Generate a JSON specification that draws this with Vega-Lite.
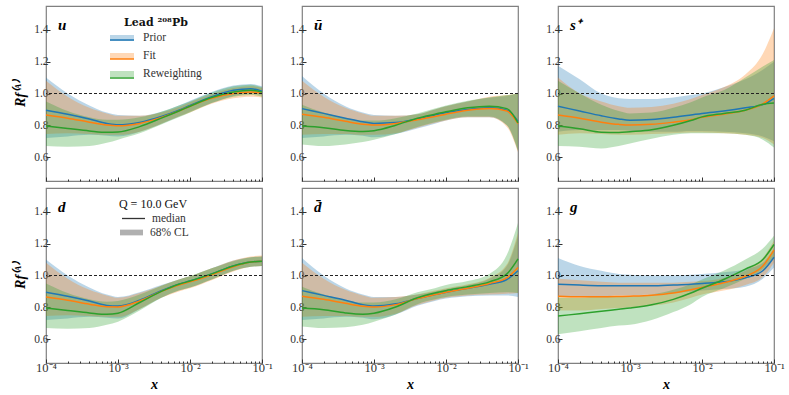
{
  "$schema": "https://vega.github.io/schema/vega-lite/v6.json",
  "background": "white",
  "padding": {"left": 13, "top": 5, "right": 5, "bottom": 5},
  "bounds": "flush",
  "columns": 3,
  "spacing": {"row": 7, "column": 40},
  "resolve": {
    "scale": {"fill": "independent", "stroke": "independent", "shape": "independent"},
    "legend": {"fill": "independent", "stroke": "independent", "shape": "independent"}
  },
  "config": {
    "font": "Liberation Serif",
    "view": {"stroke": "#808080", "strokeWidth": 1.2},
    "axis": {"domain": false, "grid": false, "labelFont": "Liberation Serif", "labelFontSize": 11.5, "labelColor": "#333", "tickColor": "#333", "titleFont": "Liberation Serif", "titleFontSize": 14, "titleFontWeight": "bold", "titleFontStyle": "italic", "titleColor": "#000"},
    "axisY": {"labelPadding": 2, "titlePadding": 6},
    "axisX": {"labelPadding": 2, "titlePadding": 2},
    "legend": {"labelFont": "Liberation Serif", "labelFontSize": 11.5, "labelColor": "#333"},
    "title": {"font": "Liberation Serif", "fontSize": 15, "fontWeight": "bold", "fontStyle": "italic", "color": "#000", "anchor": "start", "frame": "group", "offset": -27, "dx": 12, "baseline": "alphabetic"}
  },
  "data": {"values": [
{"p":"u","s":"Prior","x":0.0001,"lo":0.72,"m":0.895,"hi":1.1},
{"p":"u","s":"Prior","x":0.0002,"lo":0.73,"m":0.87,"hi":1.0},
{"p":"u","s":"Prior","x":0.0004,"lo":0.74,"m":0.84,"hi":0.925},
{"p":"u","s":"Prior","x":0.0007,"lo":0.735,"m":0.812,"hi":0.88},
{"p":"u","s":"Prior","x":0.001,"lo":0.73,"m":0.803,"hi":0.865},
{"p":"u","s":"Prior","x":0.002,"lo":0.76,"m":0.818,"hi":0.86},
{"p":"u","s":"Prior","x":0.004,"lo":0.81,"m":0.855,"hi":0.885},
{"p":"u","s":"Prior","x":0.007,"lo":0.855,"m":0.895,"hi":0.925},
{"p":"u","s":"Prior","x":0.01,"lo":0.885,"m":0.925,"hi":0.955},
{"p":"u","s":"Prior","x":0.02,"lo":0.94,"m":0.98,"hi":1.01},
{"p":"u","s":"Prior","x":0.04,"lo":0.985,"m":1.02,"hi":1.05},
{"p":"u","s":"Prior","x":0.07,"lo":1.0,"m":1.03,"hi":1.06},
{"p":"u","s":"Prior","x":0.1,"lo":0.99,"m":1.015,"hi":1.045},
{"p":"u","s":"Fit","x":0.0001,"lo":0.745,"m":0.865,"hi":1.08},
{"p":"u","s":"Fit","x":0.0002,"lo":0.75,"m":0.845,"hi":0.98},
{"p":"u","s":"Fit","x":0.0004,"lo":0.745,"m":0.82,"hi":0.91},
{"p":"u","s":"Fit","x":0.0007,"lo":0.74,"m":0.802,"hi":0.875},
{"p":"u","s":"Fit","x":0.001,"lo":0.74,"m":0.797,"hi":0.86},
{"p":"u","s":"Fit","x":0.002,"lo":0.76,"m":0.812,"hi":0.86},
{"p":"u","s":"Fit","x":0.004,"lo":0.81,"m":0.85,"hi":0.88},
{"p":"u","s":"Fit","x":0.007,"lo":0.855,"m":0.89,"hi":0.915},
{"p":"u","s":"Fit","x":0.01,"lo":0.88,"m":0.92,"hi":0.945},
{"p":"u","s":"Fit","x":0.02,"lo":0.935,"m":0.97,"hi":0.995},
{"p":"u","s":"Fit","x":0.04,"lo":0.97,"m":1.0,"hi":1.035},
{"p":"u","s":"Fit","x":0.07,"lo":0.98,"m":1.01,"hi":1.045},
{"p":"u","s":"Fit","x":0.1,"lo":0.975,"m":1.0,"hi":1.035},
{"p":"u","s":"Reweighting","x":0.0001,"lo":0.67,"m":0.795,"hi":0.95},
{"p":"u","s":"Reweighting","x":0.0002,"lo":0.665,"m":0.78,"hi":0.89},
{"p":"u","s":"Reweighting","x":0.0004,"lo":0.67,"m":0.765,"hi":0.85},
{"p":"u","s":"Reweighting","x":0.0007,"lo":0.69,"m":0.756,"hi":0.835},
{"p":"u","s":"Reweighting","x":0.001,"lo":0.71,"m":0.758,"hi":0.835},
{"p":"u","s":"Reweighting","x":0.002,"lo":0.75,"m":0.792,"hi":0.85},
{"p":"u","s":"Reweighting","x":0.004,"lo":0.805,"m":0.845,"hi":0.885},
{"p":"u","s":"Reweighting","x":0.007,"lo":0.85,"m":0.89,"hi":0.925},
{"p":"u","s":"Reweighting","x":0.01,"lo":0.88,"m":0.92,"hi":0.95},
{"p":"u","s":"Reweighting","x":0.02,"lo":0.94,"m":0.975,"hi":1.005},
{"p":"u","s":"Reweighting","x":0.04,"lo":0.98,"m":1.01,"hi":1.045},
{"p":"u","s":"Reweighting","x":0.07,"lo":0.99,"m":1.02,"hi":1.055},
{"p":"u","s":"Reweighting","x":0.1,"lo":0.98,"m":1.01,"hi":1.04},
{"p":"ubar","s":"Prior","x":0.0001,"lo":0.72,"m":0.905,"hi":1.11},
{"p":"ubar","s":"Prior","x":0.0002,"lo":0.73,"m":0.875,"hi":1.0},
{"p":"ubar","s":"Prior","x":0.0004,"lo":0.74,"m":0.845,"hi":0.92},
{"p":"ubar","s":"Prior","x":0.0007,"lo":0.735,"m":0.822,"hi":0.88},
{"p":"ubar","s":"Prior","x":0.001,"lo":0.725,"m":0.812,"hi":0.865},
{"p":"ubar","s":"Prior","x":0.002,"lo":0.745,"m":0.817,"hi":0.86},
{"p":"ubar","s":"Prior","x":0.004,"lo":0.78,"m":0.84,"hi":0.87},
{"p":"ubar","s":"Prior","x":0.007,"lo":0.81,"m":0.865,"hi":0.9},
{"p":"ubar","s":"Prior","x":0.01,"lo":0.83,"m":0.88,"hi":0.92},
{"p":"ubar","s":"Prior","x":0.02,"lo":0.85,"m":0.9,"hi":0.95},
{"p":"ubar","s":"Prior","x":0.04,"lo":0.85,"m":0.91,"hi":0.975},
{"p":"ubar","s":"Prior","x":0.07,"lo":0.8,"m":0.895,"hi":0.985},
{"p":"ubar","s":"Prior","x":0.1,"lo":0.64,"m":0.825,"hi":1.0},
{"p":"ubar","s":"Fit","x":0.0001,"lo":0.74,"m":0.87,"hi":1.08},
{"p":"ubar","s":"Fit","x":0.0002,"lo":0.745,"m":0.85,"hi":0.98},
{"p":"ubar","s":"Fit","x":0.0004,"lo":0.745,"m":0.825,"hi":0.91},
{"p":"ubar","s":"Fit","x":0.0007,"lo":0.74,"m":0.807,"hi":0.875},
{"p":"ubar","s":"Fit","x":0.001,"lo":0.74,"m":0.802,"hi":0.86},
{"p":"ubar","s":"Fit","x":0.002,"lo":0.75,"m":0.812,"hi":0.86},
{"p":"ubar","s":"Fit","x":0.004,"lo":0.785,"m":0.835,"hi":0.87},
{"p":"ubar","s":"Fit","x":0.007,"lo":0.815,"m":0.855,"hi":0.9},
{"p":"ubar","s":"Fit","x":0.01,"lo":0.83,"m":0.87,"hi":0.92},
{"p":"ubar","s":"Fit","x":0.02,"lo":0.85,"m":0.895,"hi":0.95},
{"p":"ubar","s":"Fit","x":0.04,"lo":0.85,"m":0.905,"hi":0.98},
{"p":"ubar","s":"Fit","x":0.07,"lo":0.79,"m":0.89,"hi":0.99},
{"p":"ubar","s":"Fit","x":0.1,"lo":0.63,"m":0.81,"hi":1.0},
{"p":"ubar","s":"Reweighting","x":0.0001,"lo":0.68,"m":0.795,"hi":0.93},
{"p":"ubar","s":"Reweighting","x":0.0002,"lo":0.67,"m":0.785,"hi":0.88},
{"p":"ubar","s":"Reweighting","x":0.0004,"lo":0.68,"m":0.767,"hi":0.845},
{"p":"ubar","s":"Reweighting","x":0.0007,"lo":0.695,"m":0.761,"hi":0.83},
{"p":"ubar","s":"Reweighting","x":0.001,"lo":0.71,"m":0.766,"hi":0.83},
{"p":"ubar","s":"Reweighting","x":0.002,"lo":0.745,"m":0.8,"hi":0.845},
{"p":"ubar","s":"Reweighting","x":0.004,"lo":0.79,"m":0.845,"hi":0.875},
{"p":"ubar","s":"Reweighting","x":0.007,"lo":0.82,"m":0.87,"hi":0.905},
{"p":"ubar","s":"Reweighting","x":0.01,"lo":0.835,"m":0.885,"hi":0.925},
{"p":"ubar","s":"Reweighting","x":0.02,"lo":0.855,"m":0.91,"hi":0.955},
{"p":"ubar","s":"Reweighting","x":0.04,"lo":0.855,"m":0.92,"hi":0.975},
{"p":"ubar","s":"Reweighting","x":0.07,"lo":0.8,"m":0.905,"hi":0.99},
{"p":"ubar","s":"Reweighting","x":0.1,"lo":0.64,"m":0.815,"hi":1.0},
{"p":"s","s":"Prior","x":0.0001,"lo":0.76,"m":0.92,"hi":1.175},
{"p":"s","s":"Prior","x":0.0002,"lo":0.77,"m":0.89,"hi":1.09},
{"p":"s","s":"Prior","x":0.0004,"lo":0.77,"m":0.86,"hi":1.0},
{"p":"s","s":"Prior","x":0.0007,"lo":0.77,"m":0.84,"hi":0.97},
{"p":"s","s":"Prior","x":0.001,"lo":0.765,"m":0.832,"hi":0.965},
{"p":"s","s":"Prior","x":0.002,"lo":0.76,"m":0.836,"hi":0.965},
{"p":"s","s":"Prior","x":0.004,"lo":0.76,"m":0.85,"hi":0.975},
{"p":"s","s":"Prior","x":0.007,"lo":0.765,"m":0.865,"hi":0.99},
{"p":"s","s":"Prior","x":0.01,"lo":0.765,"m":0.875,"hi":1.0},
{"p":"s","s":"Prior","x":0.02,"lo":0.76,"m":0.89,"hi":1.04},
{"p":"s","s":"Prior","x":0.04,"lo":0.75,"m":0.91,"hi":1.09},
{"p":"s","s":"Prior","x":0.07,"lo":0.73,"m":0.93,"hi":1.15},
{"p":"s","s":"Prior","x":0.1,"lo":0.7,"m":0.97,"hi":1.2},
{"p":"s","s":"Fit","x":0.0001,"lo":0.74,"m":0.865,"hi":1.1},
{"p":"s","s":"Fit","x":0.0002,"lo":0.75,"m":0.845,"hi":1.0},
{"p":"s","s":"Fit","x":0.0004,"lo":0.745,"m":0.82,"hi":0.95},
{"p":"s","s":"Fit","x":0.0007,"lo":0.74,"m":0.806,"hi":0.92},
{"p":"s","s":"Fit","x":0.001,"lo":0.74,"m":0.802,"hi":0.91},
{"p":"s","s":"Fit","x":0.002,"lo":0.745,"m":0.806,"hi":0.915},
{"p":"s","s":"Fit","x":0.004,"lo":0.75,"m":0.82,"hi":0.935},
{"p":"s","s":"Fit","x":0.007,"lo":0.755,"m":0.835,"hi":0.965},
{"p":"s","s":"Fit","x":0.01,"lo":0.755,"m":0.85,"hi":0.99},
{"p":"s","s":"Fit","x":0.02,"lo":0.75,"m":0.87,"hi":1.04},
{"p":"s","s":"Fit","x":0.04,"lo":0.74,"m":0.895,"hi":1.12},
{"p":"s","s":"Fit","x":0.07,"lo":0.72,"m":0.935,"hi":1.25},
{"p":"s","s":"Fit","x":0.1,"lo":0.68,"m":0.985,"hi":1.41},
{"p":"s","s":"Reweighting","x":0.0001,"lo":0.67,"m":0.795,"hi":1.08},
{"p":"s","s":"Reweighting","x":0.0002,"lo":0.665,"m":0.778,"hi":1.0},
{"p":"s","s":"Reweighting","x":0.0004,"lo":0.655,"m":0.757,"hi":0.93},
{"p":"s","s":"Reweighting","x":0.0007,"lo":0.67,"m":0.755,"hi":0.89},
{"p":"s","s":"Reweighting","x":0.001,"lo":0.685,"m":0.76,"hi":0.875},
{"p":"s","s":"Reweighting","x":0.002,"lo":0.715,"m":0.772,"hi":0.88},
{"p":"s","s":"Reweighting","x":0.004,"lo":0.74,"m":0.8,"hi":0.91},
{"p":"s","s":"Reweighting","x":0.007,"lo":0.75,"m":0.83,"hi":0.945},
{"p":"s","s":"Reweighting","x":0.01,"lo":0.75,"m":0.853,"hi":0.975},
{"p":"s","s":"Reweighting","x":0.02,"lo":0.75,"m":0.875,"hi":1.02},
{"p":"s","s":"Reweighting","x":0.04,"lo":0.74,"m":0.895,"hi":1.1},
{"p":"s","s":"Reweighting","x":0.07,"lo":0.71,"m":0.932,"hi":1.17},
{"p":"s","s":"Reweighting","x":0.1,"lo":0.66,"m":0.94,"hi":1.21},
{"p":"d","s":"Prior","x":0.0001,"lo":0.72,"m":0.895,"hi":1.1},
{"p":"d","s":"Prior","x":0.0002,"lo":0.73,"m":0.87,"hi":1.0},
{"p":"d","s":"Prior","x":0.0004,"lo":0.74,"m":0.84,"hi":0.925},
{"p":"d","s":"Prior","x":0.0007,"lo":0.735,"m":0.812,"hi":0.88},
{"p":"d","s":"Prior","x":0.001,"lo":0.73,"m":0.808,"hi":0.865},
{"p":"d","s":"Prior","x":0.002,"lo":0.79,"m":0.845,"hi":0.895},
{"p":"d","s":"Prior","x":0.004,"lo":0.86,"m":0.905,"hi":0.94},
{"p":"d","s":"Prior","x":0.007,"lo":0.905,"m":0.945,"hi":0.975},
{"p":"d","s":"Prior","x":0.01,"lo":0.925,"m":0.965,"hi":0.995},
{"p":"d","s":"Prior","x":0.02,"lo":0.975,"m":1.01,"hi":1.045},
{"p":"d","s":"Prior","x":0.04,"lo":1.03,"m":1.06,"hi":1.095},
{"p":"d","s":"Prior","x":0.07,"lo":1.055,"m":1.085,"hi":1.115},
{"p":"d","s":"Prior","x":0.1,"lo":1.06,"m":1.09,"hi":1.12},
{"p":"d","s":"Fit","x":0.0001,"lo":0.745,"m":0.865,"hi":1.08},
{"p":"d","s":"Fit","x":0.0002,"lo":0.75,"m":0.845,"hi":0.98},
{"p":"d","s":"Fit","x":0.0004,"lo":0.745,"m":0.82,"hi":0.91},
{"p":"d","s":"Fit","x":0.0007,"lo":0.74,"m":0.803,"hi":0.875},
{"p":"d","s":"Fit","x":0.001,"lo":0.74,"m":0.802,"hi":0.86},
{"p":"d","s":"Fit","x":0.002,"lo":0.79,"m":0.84,"hi":0.89},
{"p":"d","s":"Fit","x":0.004,"lo":0.86,"m":0.9,"hi":0.935},
{"p":"d","s":"Fit","x":0.007,"lo":0.9,"m":0.94,"hi":0.975},
{"p":"d","s":"Fit","x":0.01,"lo":0.92,"m":0.96,"hi":0.995},
{"p":"d","s":"Fit","x":0.02,"lo":0.97,"m":1.005,"hi":1.045},
{"p":"d","s":"Fit","x":0.04,"lo":1.025,"m":1.055,"hi":1.095},
{"p":"d","s":"Fit","x":0.07,"lo":1.055,"m":1.085,"hi":1.12},
{"p":"d","s":"Fit","x":0.1,"lo":1.06,"m":1.09,"hi":1.125},
{"p":"d","s":"Reweighting","x":0.0001,"lo":0.67,"m":0.795,"hi":0.95},
{"p":"d","s":"Reweighting","x":0.0002,"lo":0.665,"m":0.78,"hi":0.89},
{"p":"d","s":"Reweighting","x":0.0004,"lo":0.67,"m":0.765,"hi":0.85},
{"p":"d","s":"Reweighting","x":0.0007,"lo":0.69,"m":0.756,"hi":0.835},
{"p":"d","s":"Reweighting","x":0.001,"lo":0.71,"m":0.763,"hi":0.84},
{"p":"d","s":"Reweighting","x":0.002,"lo":0.78,"m":0.83,"hi":0.88},
{"p":"d","s":"Reweighting","x":0.004,"lo":0.86,"m":0.9,"hi":0.935},
{"p":"d","s":"Reweighting","x":0.007,"lo":0.905,"m":0.945,"hi":0.975},
{"p":"d","s":"Reweighting","x":0.01,"lo":0.925,"m":0.965,"hi":0.995},
{"p":"d","s":"Reweighting","x":0.02,"lo":0.975,"m":1.01,"hi":1.045},
{"p":"d","s":"Reweighting","x":0.04,"lo":1.03,"m":1.06,"hi":1.09},
{"p":"d","s":"Reweighting","x":0.07,"lo":1.055,"m":1.085,"hi":1.115},
{"p":"d","s":"Reweighting","x":0.1,"lo":1.06,"m":1.09,"hi":1.12},
{"p":"dbar","s":"Prior","x":0.0001,"lo":0.72,"m":0.905,"hi":1.11},
{"p":"dbar","s":"Prior","x":0.0002,"lo":0.73,"m":0.875,"hi":1.0},
{"p":"dbar","s":"Prior","x":0.0004,"lo":0.74,"m":0.845,"hi":0.92},
{"p":"dbar","s":"Prior","x":0.0007,"lo":0.735,"m":0.817,"hi":0.88},
{"p":"dbar","s":"Prior","x":0.001,"lo":0.725,"m":0.808,"hi":0.865},
{"p":"dbar","s":"Prior","x":0.002,"lo":0.755,"m":0.822,"hi":0.865},
{"p":"dbar","s":"Prior","x":0.004,"lo":0.81,"m":0.855,"hi":0.88},
{"p":"dbar","s":"Prior","x":0.007,"lo":0.84,"m":0.88,"hi":0.9},
{"p":"dbar","s":"Prior","x":0.01,"lo":0.855,"m":0.895,"hi":0.915},
{"p":"dbar","s":"Prior","x":0.02,"lo":0.87,"m":0.92,"hi":0.94},
{"p":"dbar","s":"Prior","x":0.04,"lo":0.875,"m":0.945,"hi":0.98},
{"p":"dbar","s":"Prior","x":0.07,"lo":0.875,"m":0.975,"hi":1.06},
{"p":"dbar","s":"Prior","x":0.1,"lo":0.865,"m":1.03,"hi":1.25},
{"p":"dbar","s":"Fit","x":0.0001,"lo":0.74,"m":0.87,"hi":1.08},
{"p":"dbar","s":"Fit","x":0.0002,"lo":0.745,"m":0.85,"hi":0.98},
{"p":"dbar","s":"Fit","x":0.0004,"lo":0.745,"m":0.825,"hi":0.91},
{"p":"dbar","s":"Fit","x":0.0007,"lo":0.74,"m":0.807,"hi":0.875},
{"p":"dbar","s":"Fit","x":0.001,"lo":0.74,"m":0.802,"hi":0.86},
{"p":"dbar","s":"Fit","x":0.002,"lo":0.76,"m":0.817,"hi":0.865},
{"p":"dbar","s":"Fit","x":0.004,"lo":0.815,"m":0.855,"hi":0.88},
{"p":"dbar","s":"Fit","x":0.007,"lo":0.845,"m":0.88,"hi":0.905},
{"p":"dbar","s":"Fit","x":0.01,"lo":0.86,"m":0.895,"hi":0.92},
{"p":"dbar","s":"Fit","x":0.02,"lo":0.875,"m":0.92,"hi":0.945},
{"p":"dbar","s":"Fit","x":0.04,"lo":0.88,"m":0.95,"hi":0.985},
{"p":"dbar","s":"Fit","x":0.07,"lo":0.885,"m":0.985,"hi":1.07},
{"p":"dbar","s":"Fit","x":0.1,"lo":0.89,"m":1.05,"hi":1.27},
{"p":"dbar","s":"Reweighting","x":0.0001,"lo":0.68,"m":0.795,"hi":0.93},
{"p":"dbar","s":"Reweighting","x":0.0002,"lo":0.67,"m":0.785,"hi":0.88},
{"p":"dbar","s":"Reweighting","x":0.0004,"lo":0.675,"m":0.765,"hi":0.845},
{"p":"dbar","s":"Reweighting","x":0.0007,"lo":0.69,"m":0.757,"hi":0.83},
{"p":"dbar","s":"Reweighting","x":0.001,"lo":0.71,"m":0.763,"hi":0.83},
{"p":"dbar","s":"Reweighting","x":0.002,"lo":0.755,"m":0.802,"hi":0.85},
{"p":"dbar","s":"Reweighting","x":0.004,"lo":0.82,"m":0.86,"hi":0.895},
{"p":"dbar","s":"Reweighting","x":0.007,"lo":0.85,"m":0.89,"hi":0.92},
{"p":"dbar","s":"Reweighting","x":0.01,"lo":0.865,"m":0.905,"hi":0.94},
{"p":"dbar","s":"Reweighting","x":0.02,"lo":0.88,"m":0.93,"hi":0.965},
{"p":"dbar","s":"Reweighting","x":0.04,"lo":0.89,"m":0.96,"hi":1.01},
{"p":"dbar","s":"Reweighting","x":0.07,"lo":0.895,"m":1.01,"hi":1.13},
{"p":"dbar","s":"Reweighting","x":0.1,"lo":0.89,"m":1.105,"hi":1.33},
{"p":"g","s":"Prior","x":0.0001,"lo":0.87,"m":0.945,"hi":1.11},
{"p":"g","s":"Prior","x":0.0002,"lo":0.87,"m":0.94,"hi":1.06},
{"p":"g","s":"Prior","x":0.0004,"lo":0.87,"m":0.936,"hi":1.03},
{"p":"g","s":"Prior","x":0.0007,"lo":0.875,"m":0.935,"hi":1.01},
{"p":"g","s":"Prior","x":0.001,"lo":0.875,"m":0.935,"hi":1.005},
{"p":"g","s":"Prior","x":0.002,"lo":0.88,"m":0.935,"hi":1.0},
{"p":"g","s":"Prior","x":0.004,"lo":0.89,"m":0.94,"hi":1.0},
{"p":"g","s":"Prior","x":0.007,"lo":0.9,"m":0.945,"hi":1.005},
{"p":"g","s":"Prior","x":0.01,"lo":0.905,"m":0.95,"hi":1.01},
{"p":"g","s":"Prior","x":0.02,"lo":0.915,"m":0.96,"hi":1.02},
{"p":"g","s":"Prior","x":0.04,"lo":0.93,"m":0.985,"hi":1.04},
{"p":"g","s":"Prior","x":0.07,"lo":0.98,"m":1.03,"hi":1.08},
{"p":"g","s":"Prior","x":0.1,"lo":1.05,"m":1.115,"hi":1.17},
{"p":"g","s":"Fit","x":0.0001,"lo":0.78,"m":0.87,"hi":0.98},
{"p":"g","s":"Fit","x":0.0002,"lo":0.78,"m":0.866,"hi":0.97},
{"p":"g","s":"Fit","x":0.0004,"lo":0.79,"m":0.866,"hi":0.96},
{"p":"g","s":"Fit","x":0.0007,"lo":0.795,"m":0.868,"hi":0.955},
{"p":"g","s":"Fit","x":0.001,"lo":0.8,"m":0.87,"hi":0.955},
{"p":"g","s":"Fit","x":0.002,"lo":0.81,"m":0.876,"hi":0.955},
{"p":"g","s":"Fit","x":0.004,"lo":0.83,"m":0.89,"hi":0.955},
{"p":"g","s":"Fit","x":0.007,"lo":0.86,"m":0.91,"hi":0.96},
{"p":"g","s":"Fit","x":0.01,"lo":0.88,"m":0.925,"hi":0.965},
{"p":"g","s":"Fit","x":0.02,"lo":0.905,"m":0.955,"hi":0.985},
{"p":"g","s":"Fit","x":0.04,"lo":0.94,"m":0.995,"hi":1.03},
{"p":"g","s":"Fit","x":0.07,"lo":0.99,"m":1.06,"hi":1.11},
{"p":"g","s":"Fit","x":0.1,"lo":1.08,"m":1.16,"hi":1.22},
{"p":"g","s":"Reweighting","x":0.0001,"lo":0.63,"m":0.745,"hi":0.86},
{"p":"g","s":"Reweighting","x":0.0002,"lo":0.65,"m":0.76,"hi":0.86},
{"p":"g","s":"Reweighting","x":0.0004,"lo":0.67,"m":0.775,"hi":0.87},
{"p":"g","s":"Reweighting","x":0.0007,"lo":0.685,"m":0.788,"hi":0.87},
{"p":"g","s":"Reweighting","x":0.001,"lo":0.69,"m":0.796,"hi":0.87},
{"p":"g","s":"Reweighting","x":0.002,"lo":0.72,"m":0.816,"hi":0.88},
{"p":"g","s":"Reweighting","x":0.004,"lo":0.77,"m":0.85,"hi":0.91},
{"p":"g","s":"Reweighting","x":0.007,"lo":0.82,"m":0.89,"hi":0.945},
{"p":"g","s":"Reweighting","x":0.01,"lo":0.865,"m":0.92,"hi":0.975},
{"p":"g","s":"Reweighting","x":0.02,"lo":0.92,"m":0.975,"hi":1.03},
{"p":"g","s":"Reweighting","x":0.04,"lo":0.98,"m":1.04,"hi":1.1},
{"p":"g","s":"Reweighting","x":0.07,"lo":1.04,"m":1.1,"hi":1.17},
{"p":"g","s":"Reweighting","x":0.1,"lo":1.12,"m":1.195,"hi":1.25}
  ]},
  "concat": [
    {
      "width": 216, "height": 175,
      "title": {"text": "u"},
      "layer": [
        {"transform": [{"filter": {"field": "p", "equal": "u"}}],
         "mark": {"type": "area", "opacity": 0.3, "interpolate": "monotone"},
         "encoding": {
           "x": {"field": "x", "type": "quantitative", "scale": {"type": "log", "domain": [0.0001, 0.1], "nice": false}, "axis": {"values": [0.0001,0.0002,0.0003,0.0004,0.0005,0.0006,0.0007,0.0008,0.0009,0.001,0.002,0.003,0.004,0.005,0.006,0.007,0.008,0.009,0.01,0.02,0.03,0.04,0.05,0.06,0.07,0.08,0.09,0.1], "labels": false, "title": null, "tickSize": {"condition": {"test": "indexof([0.0001,0.001,0.01,0.1], datum.value) >= 0", "value": -4}, "value": -2}}},
           "y": {"field": "lo", "type": "quantitative", "stack": null, "scale": {"domain": [0.45, 1.55], "nice": false, "zero": false}, "axis": {"values": [0.6, 0.8, 1.0, 1.2, 1.4], "format": ".1f", "tickSize": -4}, "title": "Rf⁽ᴬ⁾"},
           "y2": {"field": "hi"},
           "fill": {"field": "s", "type": "nominal", "sort": ["Prior", "Fit", "Reweighting"], "scale": {"range": ["#1f77b4", "#ff7f0e", "#2ca02c"]},
             "legend": {"orient": "none", "legendX": 64, "legendY": 11, "padding": 0, "title": "Lead ²⁰⁸Pb\u00a0\u00a0\u00a0\u00a0\u00a0", "titleAnchor": "middle", "titleFont": "DejaVu Serif", "titleFontSize": 11, "titleFontWeight": "bold", "titleColor": "#111", "titlePadding": -2, "labelOffset": 9, "symbolType": "M-1,-0.25H1V0.25H-1Z", "symbolSize": 576, "symbolOpacity": 0.3, "symbolStrokeWidth": 0, "rowPadding": -4}}
         }},
        {"transform": [{"filter": {"field": "p", "equal": "u"}}],
         "mark": {"type": "line", "strokeWidth": 1.5, "interpolate": "monotone"},
         "encoding": {
           "x": {"field": "x", "type": "quantitative", "scale": {"type": "log", "domain": [0.0001, 0.1], "nice": false}, "axis": {"values": [0.0001,0.0002,0.0003,0.0004,0.0005,0.0006,0.0007,0.0008,0.0009,0.001,0.002,0.003,0.004,0.005,0.006,0.007,0.008,0.009,0.01,0.02,0.03,0.04,0.05,0.06,0.07,0.08,0.09,0.1], "labels": false, "title": null, "tickSize": {"condition": {"test": "indexof([0.0001,0.001,0.01,0.1], datum.value) >= 0", "value": -4}, "value": -2}}},
           "y": {"field": "m", "type": "quantitative", "scale": {"domain": [0.45, 1.55], "nice": false, "zero": false}, "axis": {"values": [0.6, 0.8, 1.0, 1.2, 1.4], "format": ".1f", "tickSize": -4}, "title": "Rf⁽ᴬ⁾"},
           "stroke": {"field": "s", "type": "nominal", "scale": {"domain": ["Prior", "Fit", "Reweighting"], "range": ["#1f77b4", "#ff7f0e", "#2ca02c"]},
             "legend": {"orient": "none", "legendX": 63, "legendY": 21, "padding": 0, "title": null, "labelExpr": "''", "labelOffset": 9, "symbolType": "M-1,0H1", "symbolSize": 576, "symbolStrokeWidth": 1.5, "rowPadding": -4}}
         }},
        {"data": {"values": [{"ref": 1}]},
         "mark": {"type": "rule", "strokeDash": [3, 2], "color": "#222", "strokeWidth": 1.1},
         "encoding": {"y": {"field": "ref", "type": "quantitative", "scale": {"domain": [0.45, 1.55], "nice": false, "zero": false}, "title": "Rf⁽ᴬ⁾"}}}
      ]
    },
    {
      "width": 216, "height": 175,
      "title": {"text": "ū"},
      "layer": [
        {"transform": [{"filter": {"field": "p", "equal": "ubar"}}],
         "mark": {"type": "area", "opacity": 0.3, "interpolate": "monotone"},
         "encoding": {
           "x": {"field": "x", "type": "quantitative", "scale": {"type": "log", "domain": [0.0001, 0.1], "nice": false}, "axis": {"values": [0.0001,0.0002,0.0003,0.0004,0.0005,0.0006,0.0007,0.0008,0.0009,0.001,0.002,0.003,0.004,0.005,0.006,0.007,0.008,0.009,0.01,0.02,0.03,0.04,0.05,0.06,0.07,0.08,0.09,0.1], "labels": false, "title": null, "tickSize": {"condition": {"test": "indexof([0.0001,0.001,0.01,0.1], datum.value) >= 0", "value": -4}, "value": -2}}},
           "y": {"field": "lo", "type": "quantitative", "stack": null, "scale": {"domain": [0.45, 1.55], "nice": false, "zero": false}, "axis": {"values": [0.6, 0.8, 1.0, 1.2, 1.4], "format": ".1f", "tickSize": -4}, "title": null},
           "y2": {"field": "hi"},
           "fill": {"field": "s", "type": "nominal", "scale": {"domain": ["Prior", "Fit", "Reweighting"], "range": ["#1f77b4", "#ff7f0e", "#2ca02c"]}, "legend": null}
         }},
        {"transform": [{"filter": {"field": "p", "equal": "ubar"}}],
         "mark": {"type": "line", "strokeWidth": 1.5, "interpolate": "monotone"},
         "encoding": {
           "x": {"field": "x", "type": "quantitative", "scale": {"type": "log", "domain": [0.0001, 0.1], "nice": false}, "axis": {"values": [0.0001,0.0002,0.0003,0.0004,0.0005,0.0006,0.0007,0.0008,0.0009,0.001,0.002,0.003,0.004,0.005,0.006,0.007,0.008,0.009,0.01,0.02,0.03,0.04,0.05,0.06,0.07,0.08,0.09,0.1], "labels": false, "title": null, "tickSize": {"condition": {"test": "indexof([0.0001,0.001,0.01,0.1], datum.value) >= 0", "value": -4}, "value": -2}}},
           "y": {"field": "m", "type": "quantitative", "scale": {"domain": [0.45, 1.55], "nice": false, "zero": false}, "axis": {"values": [0.6, 0.8, 1.0, 1.2, 1.4], "format": ".1f", "tickSize": -4}, "title": null},
           "stroke": {"field": "s", "type": "nominal", "scale": {"domain": ["Prior", "Fit", "Reweighting"], "range": ["#1f77b4", "#ff7f0e", "#2ca02c"]}, "legend": null}
         }},
        {"data": {"values": [{"ref": 1}]},
         "mark": {"type": "rule", "strokeDash": [3, 2], "color": "#222", "strokeWidth": 1.1},
         "encoding": {"y": {"field": "ref", "type": "quantitative", "scale": {"domain": [0.45, 1.55], "nice": false, "zero": false}, "title": null}}}
      ]
    },
    {
      "width": 216, "height": 175,
      "title": {"text": "s⁺"},
      "layer": [
        {"transform": [{"filter": {"field": "p", "equal": "s"}}],
         "mark": {"type": "area", "opacity": 0.3, "interpolate": "monotone"},
         "encoding": {
           "x": {"field": "x", "type": "quantitative", "scale": {"type": "log", "domain": [0.0001, 0.1], "nice": false}, "axis": {"values": [0.0001,0.0002,0.0003,0.0004,0.0005,0.0006,0.0007,0.0008,0.0009,0.001,0.002,0.003,0.004,0.005,0.006,0.007,0.008,0.009,0.01,0.02,0.03,0.04,0.05,0.06,0.07,0.08,0.09,0.1], "labels": false, "title": null, "tickSize": {"condition": {"test": "indexof([0.0001,0.001,0.01,0.1], datum.value) >= 0", "value": -4}, "value": -2}}},
           "y": {"field": "lo", "type": "quantitative", "stack": null, "scale": {"domain": [0.45, 1.55], "nice": false, "zero": false}, "axis": {"values": [0.6, 0.8, 1.0, 1.2, 1.4], "format": ".1f", "tickSize": -4}, "title": null},
           "y2": {"field": "hi"},
           "fill": {"field": "s", "type": "nominal", "scale": {"domain": ["Prior", "Fit", "Reweighting"], "range": ["#1f77b4", "#ff7f0e", "#2ca02c"]}, "legend": null}
         }},
        {"transform": [{"filter": {"field": "p", "equal": "s"}}],
         "mark": {"type": "line", "strokeWidth": 1.5, "interpolate": "monotone"},
         "encoding": {
           "x": {"field": "x", "type": "quantitative", "scale": {"type": "log", "domain": [0.0001, 0.1], "nice": false}, "axis": {"values": [0.0001,0.0002,0.0003,0.0004,0.0005,0.0006,0.0007,0.0008,0.0009,0.001,0.002,0.003,0.004,0.005,0.006,0.007,0.008,0.009,0.01,0.02,0.03,0.04,0.05,0.06,0.07,0.08,0.09,0.1], "labels": false, "title": null, "tickSize": {"condition": {"test": "indexof([0.0001,0.001,0.01,0.1], datum.value) >= 0", "value": -4}, "value": -2}}},
           "y": {"field": "m", "type": "quantitative", "scale": {"domain": [0.45, 1.55], "nice": false, "zero": false}, "axis": {"values": [0.6, 0.8, 1.0, 1.2, 1.4], "format": ".1f", "tickSize": -4}, "title": null},
           "stroke": {"field": "s", "type": "nominal", "scale": {"domain": ["Prior", "Fit", "Reweighting"], "range": ["#1f77b4", "#ff7f0e", "#2ca02c"]}, "legend": null}
         }},
        {"data": {"values": [{"ref": 1}]},
         "mark": {"type": "rule", "strokeDash": [3, 2], "color": "#222", "strokeWidth": 1.1},
         "encoding": {"y": {"field": "ref", "type": "quantitative", "scale": {"domain": [0.45, 1.55], "nice": false, "zero": false}, "title": null}}}
      ]
    },
    {
      "width": 216, "height": 175,
      "title": {"text": "d"},
      "resolve": {"scale": {"fill": "independent", "stroke": "independent"}},
      "layer": [
        {"transform": [{"filter": {"field": "p", "equal": "d"}}],
         "mark": {"type": "area", "opacity": 0.3, "interpolate": "monotone"},
         "encoding": {
           "x": {"field": "x", "type": "quantitative", "scale": {"type": "log", "domain": [0.0001, 0.1], "nice": false}, "axis": {"values": [0.0001,0.0002,0.0003,0.0004,0.0005,0.0006,0.0007,0.0008,0.0009,0.001,0.002,0.003,0.004,0.005,0.006,0.007,0.008,0.009,0.01,0.02,0.03,0.04,0.05,0.06,0.07,0.08,0.09,0.1], "labelExpr": "datum.value == 0.0001 ? '10⁻⁴' : datum.value == 0.001 ? '10⁻³' : datum.value == 0.01 ? '10⁻²' : datum.value == 0.1 ? '10⁻¹' : ''", "labelFlush": false, "labelOverlap": false, "labelFontSize": 12.5, "title": "x", "tickSize": {"condition": {"test": "indexof([0.0001,0.001,0.01,0.1], datum.value) >= 0", "value": -4}, "value": -2}}},
           "y": {"field": "lo", "type": "quantitative", "stack": null, "scale": {"domain": [0.45, 1.55], "nice": false, "zero": false}, "axis": {"values": [0.6, 0.8, 1.0, 1.2, 1.4], "format": ".1f", "tickSize": -4}, "title": "Rf⁽ᴬ⁾"},
           "y2": {"field": "hi"},
           "fill": {"field": "s", "type": "nominal", "scale": {"domain": ["Prior", "Fit", "Reweighting"], "range": ["#1f77b4", "#ff7f0e", "#2ca02c"]}, "legend": null}
         }},
        {"transform": [{"filter": {"field": "p", "equal": "d"}}],
         "mark": {"type": "line", "strokeWidth": 1.5, "interpolate": "monotone"},
         "encoding": {
           "x": {"field": "x", "type": "quantitative", "scale": {"type": "log", "domain": [0.0001, 0.1], "nice": false}, "axis": {"values": [0.0001,0.0002,0.0003,0.0004,0.0005,0.0006,0.0007,0.0008,0.0009,0.001,0.002,0.003,0.004,0.005,0.006,0.007,0.008,0.009,0.01,0.02,0.03,0.04,0.05,0.06,0.07,0.08,0.09,0.1], "labelExpr": "datum.value == 0.0001 ? '10⁻⁴' : datum.value == 0.001 ? '10⁻³' : datum.value == 0.01 ? '10⁻²' : datum.value == 0.1 ? '10⁻¹' : ''", "labelFlush": false, "labelOverlap": false, "labelFontSize": 12.5, "title": "x", "tickSize": {"condition": {"test": "indexof([0.0001,0.001,0.01,0.1], datum.value) >= 0", "value": -4}, "value": -2}}},
           "y": {"field": "m", "type": "quantitative", "scale": {"domain": [0.45, 1.55], "nice": false, "zero": false}, "axis": {"values": [0.6, 0.8, 1.0, 1.2, 1.4], "format": ".1f", "tickSize": -4}, "title": "Rf⁽ᴬ⁾"},
           "stroke": {"field": "s", "type": "nominal", "scale": {"domain": ["Prior", "Fit", "Reweighting"], "range": ["#1f77b4", "#ff7f0e", "#2ca02c"]}, "legend": null}
         }},
        {"data": {"values": [{"ref": 1}]},
         "mark": {"type": "rule", "strokeDash": [3, 2], "color": "#222", "strokeWidth": 1.1},
         "encoding": {"y": {"field": "ref", "type": "quantitative", "scale": {"domain": [0.45, 1.55], "nice": false, "zero": false}, "title": "Rf⁽ᴬ⁾"}}},
        {"data": {"values": [{"k": "median"}]},
         "mark": {"type": "point", "opacity": 0},
         "encoding": {
           "stroke": {"field": "k", "type": "nominal", "scale": {"domain": ["median"], "range": ["#333333"]},
             "legend": {"orient": "none", "legendX": 73, "legendY": 11, "padding": 0, "title": "Q = 10.0 GeV", "titleAnchor": "middle", "titleFont": "Liberation Serif", "titleFontSize": 12, "titleFontWeight": "normal", "titleColor": "#111", "titlePadding": -5, "labelOffset": 6, "symbolType": "M-1,0H1", "symbolSize": 529, "symbolOpacity": 1, "symbolStrokeWidth": 1.3}}
         }},
        {"data": {"values": [{"k": "68% CL"}]},
         "mark": {"type": "point", "opacity": 0, "filled": true},
         "encoding": {
           "fill": {"field": "k", "type": "nominal", "scale": {"domain": ["68% CL"], "range": ["#b0b0b0"]},
             "legend": {"orient": "none", "legendX": 74, "legendY": 33, "padding": 0, "title": null, "labelOffset": 7, "symbolType": "M-1,-0.25H1V0.25H-1Z", "symbolSize": 529, "symbolOpacity": 1, "symbolStrokeWidth": 0}}
         }}
      ]
    },
    {
      "width": 216, "height": 175,
      "title": {"text": "d̄"},
      "layer": [
        {"transform": [{"filter": {"field": "p", "equal": "dbar"}}],
         "mark": {"type": "area", "opacity": 0.3, "interpolate": "monotone"},
         "encoding": {
           "x": {"field": "x", "type": "quantitative", "scale": {"type": "log", "domain": [0.0001, 0.1], "nice": false}, "axis": {"values": [0.0001,0.0002,0.0003,0.0004,0.0005,0.0006,0.0007,0.0008,0.0009,0.001,0.002,0.003,0.004,0.005,0.006,0.007,0.008,0.009,0.01,0.02,0.03,0.04,0.05,0.06,0.07,0.08,0.09,0.1], "labelExpr": "datum.value == 0.0001 ? '10⁻⁴' : datum.value == 0.001 ? '10⁻³' : datum.value == 0.01 ? '10⁻²' : datum.value == 0.1 ? '10⁻¹' : ''", "labelFlush": false, "labelOverlap": false, "labelFontSize": 12.5, "title": "x", "tickSize": {"condition": {"test": "indexof([0.0001,0.001,0.01,0.1], datum.value) >= 0", "value": -4}, "value": -2}}},
           "y": {"field": "lo", "type": "quantitative", "stack": null, "scale": {"domain": [0.45, 1.55], "nice": false, "zero": false}, "axis": {"values": [0.6, 0.8, 1.0, 1.2, 1.4], "format": ".1f", "tickSize": -4}, "title": null},
           "y2": {"field": "hi"},
           "fill": {"field": "s", "type": "nominal", "scale": {"domain": ["Prior", "Fit", "Reweighting"], "range": ["#1f77b4", "#ff7f0e", "#2ca02c"]}, "legend": null}
         }},
        {"transform": [{"filter": {"field": "p", "equal": "dbar"}}],
         "mark": {"type": "line", "strokeWidth": 1.5, "interpolate": "monotone"},
         "encoding": {
           "x": {"field": "x", "type": "quantitative", "scale": {"type": "log", "domain": [0.0001, 0.1], "nice": false}, "axis": {"values": [0.0001,0.0002,0.0003,0.0004,0.0005,0.0006,0.0007,0.0008,0.0009,0.001,0.002,0.003,0.004,0.005,0.006,0.007,0.008,0.009,0.01,0.02,0.03,0.04,0.05,0.06,0.07,0.08,0.09,0.1], "labelExpr": "datum.value == 0.0001 ? '10⁻⁴' : datum.value == 0.001 ? '10⁻³' : datum.value == 0.01 ? '10⁻²' : datum.value == 0.1 ? '10⁻¹' : ''", "labelFlush": false, "labelOverlap": false, "labelFontSize": 12.5, "title": "x", "tickSize": {"condition": {"test": "indexof([0.0001,0.001,0.01,0.1], datum.value) >= 0", "value": -4}, "value": -2}}},
           "y": {"field": "m", "type": "quantitative", "scale": {"domain": [0.45, 1.55], "nice": false, "zero": false}, "axis": {"values": [0.6, 0.8, 1.0, 1.2, 1.4], "format": ".1f", "tickSize": -4}, "title": null},
           "stroke": {"field": "s", "type": "nominal", "scale": {"domain": ["Prior", "Fit", "Reweighting"], "range": ["#1f77b4", "#ff7f0e", "#2ca02c"]}, "legend": null}
         }},
        {"data": {"values": [{"ref": 1}]},
         "mark": {"type": "rule", "strokeDash": [3, 2], "color": "#222", "strokeWidth": 1.1},
         "encoding": {"y": {"field": "ref", "type": "quantitative", "scale": {"domain": [0.45, 1.55], "nice": false, "zero": false}, "title": null}}}
      ]
    },
    {
      "width": 216, "height": 175,
      "title": {"text": "g"},
      "layer": [
        {"transform": [{"filter": {"field": "p", "equal": "g"}}],
         "mark": {"type": "area", "opacity": 0.3, "interpolate": "monotone"},
         "encoding": {
           "x": {"field": "x", "type": "quantitative", "scale": {"type": "log", "domain": [0.0001, 0.1], "nice": false}, "axis": {"values": [0.0001,0.0002,0.0003,0.0004,0.0005,0.0006,0.0007,0.0008,0.0009,0.001,0.002,0.003,0.004,0.005,0.006,0.007,0.008,0.009,0.01,0.02,0.03,0.04,0.05,0.06,0.07,0.08,0.09,0.1], "labelExpr": "datum.value == 0.0001 ? '10⁻⁴' : datum.value == 0.001 ? '10⁻³' : datum.value == 0.01 ? '10⁻²' : datum.value == 0.1 ? '10⁻¹' : ''", "labelFlush": false, "labelOverlap": false, "labelFontSize": 12.5, "title": "x", "tickSize": {"condition": {"test": "indexof([0.0001,0.001,0.01,0.1], datum.value) >= 0", "value": -4}, "value": -2}}},
           "y": {"field": "lo", "type": "quantitative", "stack": null, "scale": {"domain": [0.45, 1.55], "nice": false, "zero": false}, "axis": {"values": [0.6, 0.8, 1.0, 1.2, 1.4], "format": ".1f", "tickSize": -4}, "title": null},
           "y2": {"field": "hi"},
           "fill": {"field": "s", "type": "nominal", "scale": {"domain": ["Prior", "Fit", "Reweighting"], "range": ["#1f77b4", "#ff7f0e", "#2ca02c"]}, "legend": null}
         }},
        {"transform": [{"filter": {"field": "p", "equal": "g"}}],
         "mark": {"type": "line", "strokeWidth": 1.5, "interpolate": "monotone"},
         "encoding": {
           "x": {"field": "x", "type": "quantitative", "scale": {"type": "log", "domain": [0.0001, 0.1], "nice": false}, "axis": {"values": [0.0001,0.0002,0.0003,0.0004,0.0005,0.0006,0.0007,0.0008,0.0009,0.001,0.002,0.003,0.004,0.005,0.006,0.007,0.008,0.009,0.01,0.02,0.03,0.04,0.05,0.06,0.07,0.08,0.09,0.1], "labelExpr": "datum.value == 0.0001 ? '10⁻⁴' : datum.value == 0.001 ? '10⁻³' : datum.value == 0.01 ? '10⁻²' : datum.value == 0.1 ? '10⁻¹' : ''", "labelFlush": false, "labelOverlap": false, "labelFontSize": 12.5, "title": "x", "tickSize": {"condition": {"test": "indexof([0.0001,0.001,0.01,0.1], datum.value) >= 0", "value": -4}, "value": -2}}},
           "y": {"field": "m", "type": "quantitative", "scale": {"domain": [0.45, 1.55], "nice": false, "zero": false}, "axis": {"values": [0.6, 0.8, 1.0, 1.2, 1.4], "format": ".1f", "tickSize": -4}, "title": null},
           "stroke": {"field": "s", "type": "nominal", "scale": {"domain": ["Prior", "Fit", "Reweighting"], "range": ["#1f77b4", "#ff7f0e", "#2ca02c"]}, "legend": null}
         }},
        {"data": {"values": [{"ref": 1}]},
         "mark": {"type": "rule", "strokeDash": [3, 2], "color": "#222", "strokeWidth": 1.1},
         "encoding": {"y": {"field": "ref", "type": "quantitative", "scale": {"domain": [0.45, 1.55], "nice": false, "zero": false}, "title": null}}}
      ]
    }
  ]
}
